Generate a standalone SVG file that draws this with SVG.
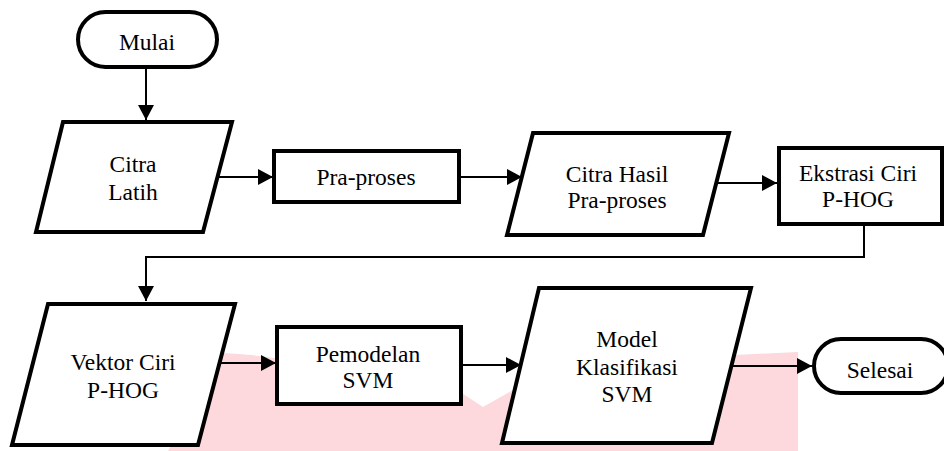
<svg xmlns="http://www.w3.org/2000/svg" width="944" height="451" viewBox="0 0 944 451">
<style>
.n{fill:#fff;stroke:#000;stroke-width:4;stroke-linejoin:miter}
.t{font-size:23.5px;fill:#000;text-anchor:middle}
.c{fill:none;stroke:#000;stroke-width:2}
</style>
<defs>
<marker id="ah" markerUnits="userSpaceOnUse" markerWidth="16" markerHeight="16" refX="15" refY="8" orient="auto">
<path d="M0,0 L15,8 L0,16 Z" fill="#000"/>
</marker>
</defs>
<rect width="944" height="451" fill="#fff"/>
<path id="watermark" d="M168 451 L222 353 Q250 354 280 359 L460 392 L483 407 L515 389 L735 355 L798 352 L798 451 Z" fill="#fdd8dc"/>
<g id="connectors">
<path class="c" d="M146 67 V120" marker-end="url(#ah)"/>
<path class="c" d="M219 177 H273" marker-end="url(#ah)"/>
<path class="c" d="M459 177 H522" marker-end="url(#ah)"/>
<path class="c" d="M718 183 H777" marker-end="url(#ah)"/>
<path class="c" d="M864 224 V257 H146 V301" marker-end="url(#ah)"/>
<path class="c" d="M221 363 H276" marker-end="url(#ah)"/>
<path class="c" d="M461 365 H521" marker-end="url(#ah)"/>
<path class="c" d="M733 366 H812" marker-end="url(#ah)"/>
</g>
<g id="mulai">
<rect class="n" x="78" y="12" width="139" height="55" rx="27.5"/>
<text class="t" font-family="Liberation Serif" x="147" y="50">Mulai</text>
</g>
<g id="citra-latih">
<polygon class="n" points="63,122 232,122 203,232 36,232"/>
<text class="t" font-family="Liberation Serif" x="133" y="172">Citra</text>
<text class="t" font-family="Liberation Serif" x="133" y="200">Latih</text>
</g>
<g id="pra-proses">
<rect class="n" x="274" y="151" width="185" height="51"/>
<text class="t" font-family="Liberation Serif" x="366" y="185">Pra-proses</text>
</g>
<g id="citra-hasil">
<polygon class="n" points="533,133 729,133 703,235 507,235"/>
<text class="t" font-family="Liberation Serif" x="617" y="182">Citra Hasil</text>
<text class="t" font-family="Liberation Serif" x="617" y="208">Pra-proses</text>
</g>
<g id="ekstrasi">
<rect class="n" x="779" y="148" width="163" height="76" stroke-width="4.5"/>
<text class="t" font-family="Liberation Serif" x="858" y="181">Ekstrasi Ciri</text>
<text class="t" font-family="Liberation Serif" x="858" y="207">P-HOG</text>
</g>
<g id="vektor">
<polygon class="n" points="48,304 235,304 198,445 12,445"/>
<text class="t" font-family="Liberation Serif" x="123" y="370">Vektor Ciri</text>
<text class="t" font-family="Liberation Serif" x="123" y="398">P-HOG</text>
</g>
<g id="pemodelan">
<rect class="n" x="277" y="327" width="184" height="77"/>
<text class="t" font-family="Liberation Serif" x="368" y="362">Pemodelan</text>
<text class="t" font-family="Liberation Serif" x="368" y="388">SVM</text>
</g>
<g id="model">
<polygon class="n" points="539,288 751,288 712,443 502,443"/>
<text class="t" font-family="Liberation Serif" x="627" y="347">Model</text>
<text class="t" font-family="Liberation Serif" x="627" y="375">Klasifikasi</text>
<text class="t" font-family="Liberation Serif" x="627" y="402">SVM</text>
</g>
<g id="selesai">
<rect class="n" x="814" y="339" width="134" height="54" rx="27"/>
<text class="t" font-family="Liberation Serif" x="880" y="378">Selesai</text>
</g>
</svg>
